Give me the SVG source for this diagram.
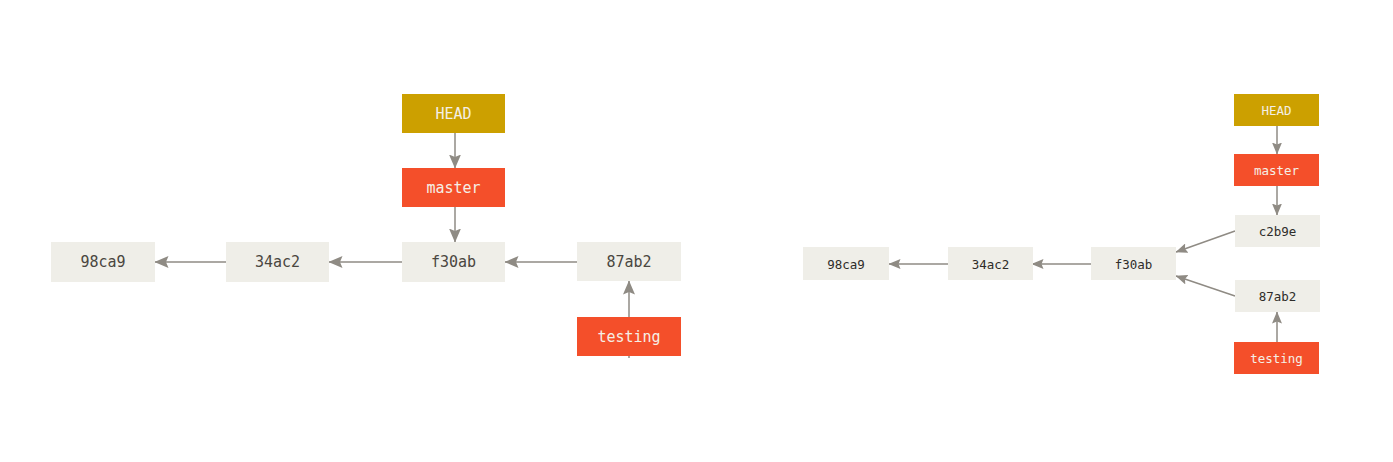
<svg xmlns="http://www.w3.org/2000/svg" width="1393" height="462" viewBox="0 0 1393 462">
<style>
.commit{fill:#efeee8}
.head{fill:#cca000}
.branch{fill:#f44f2a}
.t1{font-family:"DejaVu Sans Mono","Liberation Mono",monospace;font-size:15px;text-anchor:middle;dominant-baseline:central}
.t2{font-family:"DejaVu Sans Mono","Liberation Mono",monospace;font-size:12.5px;text-anchor:middle;dominant-baseline:central}
.dark{fill:#4a4640}
.t2.dark{fill:#2e2c29}
.light{fill:#f4efe6}
.conn line{stroke:#8f8b84;stroke-width:1.5;fill:none}
.big line{marker-end:url(#ah1)}
.small line{marker-end:url(#ah2)}
</style>
<defs>
<marker id="ah1" markerUnits="userSpaceOnUse" markerWidth="14" markerHeight="12" refX="13.5" refY="6" orient="auto">
<path d="M0,0 L14,6 L0,12 L2.5,6 z" fill="#8f8b84"/>
</marker>
<marker id="ah2" markerUnits="userSpaceOnUse" markerWidth="12" markerHeight="10" refX="11.5" refY="5" orient="auto">
<path d="M0,0 L12,5 L0,10 L2,5 z" fill="#8f8b84"/>
</marker>
</defs>
<rect width="1393" height="462" fill="#ffffff"/>
<g id="connectors" class="conn">
<g class="big">
<line x1="455" y1="133" x2="455" y2="168"/>
<line x1="455" y1="207" x2="455" y2="242"/>
<line x1="226" y1="262" x2="155" y2="262"/>
<line x1="402" y1="262" x2="329" y2="262"/>
<line x1="577" y1="262" x2="505" y2="262"/>
<line x1="629" y1="358" x2="629" y2="281"/>
</g>
<g class="small">
<line x1="1277" y1="126" x2="1277" y2="154"/>
<line x1="1277" y1="186" x2="1277" y2="215"/>
<line x1="948" y1="264" x2="889" y2="264"/>
<line x1="1091" y1="264" x2="1032" y2="264"/>
<line x1="1235" y1="231" x2="1176" y2="252"/>
<line x1="1235" y1="296" x2="1176" y2="276"/>
<line x1="1277" y1="342" x2="1277" y2="312"/>
</g>
</g>
<g id="L-HEAD"><rect class="head" x="402" y="94" width="103" height="39"/><text class="t1 light" x="453.5" y="114">HEAD</text></g>
<g id="L-master"><rect class="branch" x="402" y="168" width="103" height="39"/><text class="t1 light" x="453.5" y="188">master</text></g>
<g id="L-98ca9"><rect class="commit" x="51" y="242" width="104" height="40"/><text class="t1 dark" x="103" y="262">98ca9</text></g>
<g id="L-34ac2"><rect class="commit" x="226" y="242" width="103" height="40"/><text class="t1 dark" x="277.5" y="262">34ac2</text></g>
<g id="L-f30ab"><rect class="commit" x="402" y="242" width="103" height="40"/><text class="t1 dark" x="453.5" y="262">f30ab</text></g>
<g id="L-87ab2"><rect class="commit" x="577" y="242" width="104" height="39"/><text class="t1 dark" x="629" y="262">87ab2</text></g>
<g id="L-testing"><rect class="branch" x="577" y="317" width="104" height="39"/><text class="t1 light" x="629" y="337">testing</text></g>

<g id="R-HEAD"><rect class="head" x="1234" y="94" width="85" height="32"/><text class="t2 light" x="1276.5" y="110">HEAD</text></g>
<g id="R-master"><rect class="branch" x="1234" y="154" width="85" height="32"/><text class="t2 light" x="1276.5" y="170">master</text></g>
<g id="R-c2b9e"><rect class="commit" x="1235" y="215" width="85" height="32"/><text class="t2 dark" x="1277.5" y="231">c2b9e</text></g>
<g id="R-87ab2"><rect class="commit" x="1235" y="280" width="85" height="32"/><text class="t2 dark" x="1277.5" y="296">87ab2</text></g>
<g id="R-testing"><rect class="branch" x="1234" y="342" width="85" height="32"/><text class="t2 light" x="1276.5" y="358">testing</text></g>
<g id="R-98ca9"><rect class="commit" x="803" y="247" width="86" height="33"/><text class="t2 dark" x="846" y="264">98ca9</text></g>
<g id="R-34ac2"><rect class="commit" x="948" y="247" width="85" height="33"/><text class="t2 dark" x="990.5" y="264">34ac2</text></g>
<g id="R-f30ab"><rect class="commit" x="1091" y="247" width="85" height="33"/><text class="t2 dark" x="1133.5" y="264">f30ab</text></g>
</svg>
